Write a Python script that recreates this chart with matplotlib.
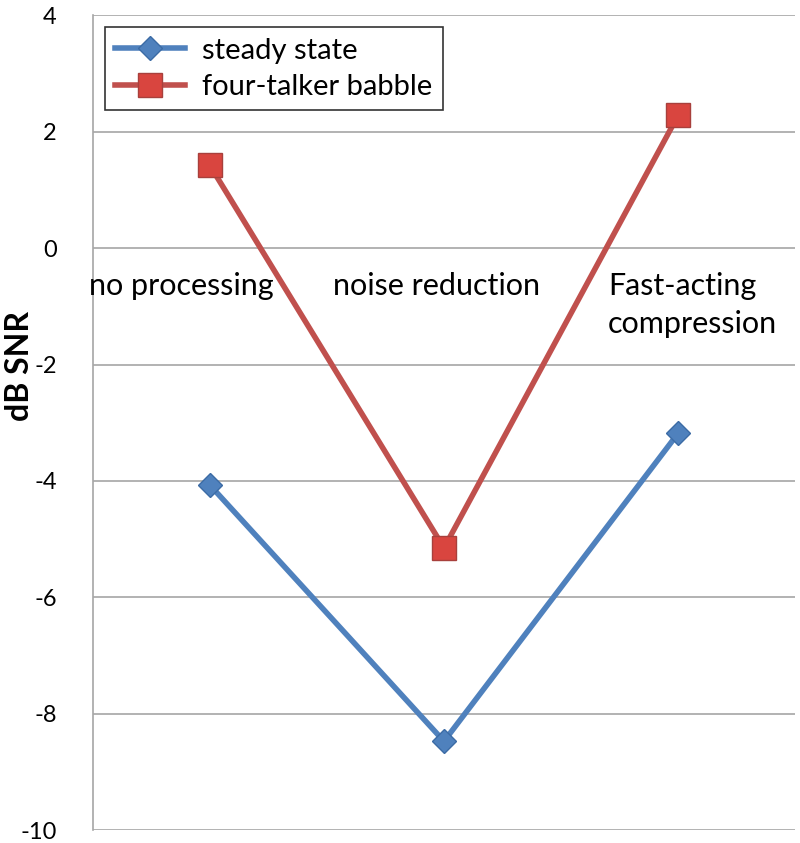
import matplotlib.pyplot as plt

plt.rcParams['font.family'] = ['Lato', 'DejaVu Sans']

categories = ['no processing', 'noise reduction', 'Fast-acting\ncompression']
steady = [-4.07, -8.47, -3.18]
babble = [1.42, -5.15, 2.28]
yticks = [-10, -8, -6, -4, -2, 0, 2, 4]

fig = plt.figure(figsize=(8, 8.43), dpi=100)
ax = fig.add_axes([0.116, 0.015, 0.878, 0.967])

x = list(range(len(categories)))
ax.plot(x, steady, color='#4F81BD', lw=4, marker='D', ms=12,
        mfc='#4F81BD', mec='#3B6BA5', label='steady state', zorder=3)
ax.plot(x, babble, color='#C0504D', lw=4, marker='s', ms=17,
        mfc='#D9453F', mec='#A8403C', label='four-talker babble', zorder=3)

ax.set_xlim(-0.5, 2.5)
ax.set_ylim(-10, 4)
ax.set_yticks(yticks)
ax.set_yticklabels([str(t) for t in yticks], fontsize=17)
ax.tick_params(axis='y', length=0, pad=26)
ax.set_xticks([])
ax.grid(axis='y', color='#A6A6A6', lw=1.2)
ax.set_axisbelow(True)
for s in ['top', 'right', 'bottom']:
    ax.spines[s].set_visible(False)
ax.spines['left'].set_color('#A6A6A6')
ax.spines['left'].set_linewidth(1.2)

ax.set_ylabel('dB SNR', fontsize=23, fontweight='bold', va='center')
ax.yaxis.set_label_coords(-0.105, 0.57)

# category labels sit inside the plot near y = -0.65
ax.text(-0.12, -0.65, categories[0], fontsize=22, ha='center', va='center')
ax.text(0.97, -0.65, categories[1], fontsize=22, ha='center', va='center')
ax.text(1.7, -0.65, 'Fast-acting', fontsize=22, ha='left', va='center')
ax.text(1.7, -1.3, 'compression', fontsize=22, ha='left', va='center')

leg = ax.legend(loc='upper left', bbox_to_anchor=(0.017, 0.985), fontsize=21,
                frameon=True, fancybox=False, edgecolor='black',
                borderaxespad=0, borderpad=0.35, handlelength=2.4,
                labelspacing=0.35, handletextpad=0.6)
leg.get_frame().set_linewidth(1.2)

fig.savefig('out.png', dpi=100)
